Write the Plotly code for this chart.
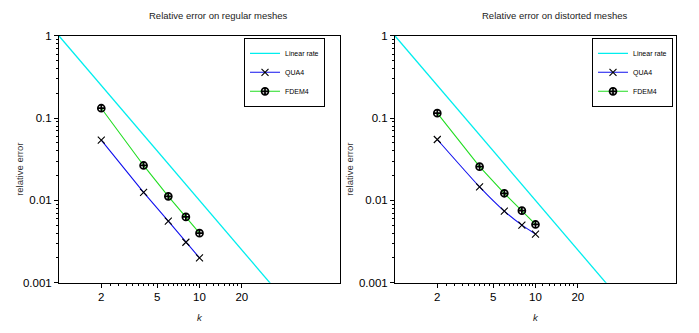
import plotly.graph_objects as go

# ---------------- data ----------------
k = [2, 4, 6, 8, 10]
qua4_regular = [0.054, 0.0125, 0.0056, 0.0031, 0.0020]
fdem4_regular = [0.132, 0.0266, 0.0112, 0.0063, 0.0040]
qua4_distorted = [0.055, 0.0146, 0.0074, 0.0050, 0.0039]
fdem4_distorted = [0.115, 0.0257, 0.0122, 0.0075, 0.0051]
rate_k = [1, 100]
rate_err = [1.0, 1e-4]          # reference slope line (k^-2)

titles = ["Relative error on regular meshes", "Relative error on distorted meshes"]
x_tickvals = [2, 5, 10, 20]
x_ticktext = ["2", "5", "10", "20"]
y_tickvals = [1, 0.1, 0.01, 0.001]
y_ticktext = ["1", "0.1", "0.01", "0.001"]

x_minor = ([2 + i / 3 for i in range(1, 9)] + [5 + i * 0.5 for i in range(1, 10)]
           + [10 + i * 1.25 for i in range(1, 8)])
y_minor = [m * 10 ** e for e in (-3, -2, -1) for m in range(2, 10)]

FONT = "Liberation Sans, Arial, sans-serif"
W, H = 699, 333

fig = go.Figure()

panels = [
    ("x", "y", "legend", qua4_regular, fdem4_regular, "linear"),
    ("x2", "y2", "legend2", qua4_distorted, fdem4_distorted, "spline"),
]
for xa, ya, lg, q, f, shp in panels:
    fig.add_trace(go.Scatter(x=rate_k, y=rate_err, mode="lines", name="Linear rate",
                             line=dict(color="#00eeee", width=1.3),
                             xaxis=xa, yaxis=ya, legend=lg))
    fig.add_trace(go.Scatter(x=k, y=q, mode="lines+markers", name="QUA4",
                             line=dict(color="#1010ee", width=1.1, shape=shp, smoothing=0.6),
                             marker=dict(symbol="x-thin", size=7, color="black",
                                         line=dict(color="black", width=1.1)),
                             xaxis=xa, yaxis=ya, legend=lg))
    fig.add_trace(go.Scatter(x=k, y=f, mode="lines+markers", name="FDEM4",
                             line=dict(color="#22dd22", width=1.1),
                             marker=dict(symbol="circle-cross-open", size=7, color="black",
                                         line=dict(color="black", width=1.7)),
                             xaxis=xa, yaxis=ya, legend=lg))

def px_x(p):
    return p / W

def px_y(p):
    return (H - p) / H

ydom = [px_y(287), px_y(31)]
xdoms = [[px_x(59), px_x(340)], [px_x(395), px_x(676)]]

axis_common = dict(type="log", showline=True, linecolor="black", linewidth=1, mirror=True,
                   showgrid=False, zeroline=False, ticks="outside", ticklen=4,
                   tickcolor="black", tickfont=dict(family=FONT, size=11.5, color="black"))

layout = dict(
    width=W, height=H, margin=dict(l=0, r=0, t=0, b=0),
    paper_bgcolor="white", plot_bgcolor="white", font=dict(family=FONT),
    annotations=[],
)
for i, (xa, ya) in enumerate([("xaxis", "yaxis"), ("xaxis2", "yaxis2")]):
    layout[xa] = dict(axis_common, domain=xdoms[i], range=[0, 2], anchor="y" if i == 0 else "y2",
                      tickvals=x_tickvals, ticktext=x_ticktext,
                      minor=dict(tickvals=x_minor, ticks="outside", ticklen=2.5, tickcolor="black"))
    layout[ya] = dict(axis_common, domain=ydom, range=[-3, 0], anchor="x" if i == 0 else "x2",
                      tickvals=y_tickvals, ticktext=y_ticktext,
                      minor=dict(tickvals=y_minor, ticks="outside", ticklen=2.5, tickcolor="black"))

legend_common = dict(bgcolor="white", bordercolor="black", borderwidth=1,
                     font=dict(family=FONT, size=7, color="black"),
                     xanchor="right", yanchor="top", itemwidth=30, tracegroupgap=0)
layout["legend"] = dict(legend_common, x=px_x(325), y=px_y(33))
layout["legend2"] = dict(legend_common, x=px_x(673), y=px_y(33))

title_x = [218, 554]
ylab_x = [20, 350]
klab_x = [200, 536]
for i in range(2):
    layout["annotations"].append(dict(text=titles[i], x=px_x(title_x[i]), y=px_y(10),
                                      xref="paper", yref="paper", showarrow=False,
                                      xanchor="center", yanchor="middle",
                                      font=dict(family=FONT, size=9.5, color="#222")))
    layout["annotations"].append(dict(text="relative error", x=px_x(ylab_x[i]), y=px_y(170),
                                      xref="paper", yref="paper", showarrow=False, textangle=-90,
                                      xanchor="center", yanchor="middle",
                                      font=dict(family=FONT, size=9.5, color="#333")))
    layout["annotations"].append(dict(text="<i>k</i>", x=px_x(klab_x[i]), y=px_y(323),
                                      xref="paper", yref="paper", showarrow=False,
                                      xanchor="center", yanchor="middle",
                                      font=dict(family=FONT, size=9.5, color="#222")))

fig.update_layout(**layout)
fig.write_html("out.html")
